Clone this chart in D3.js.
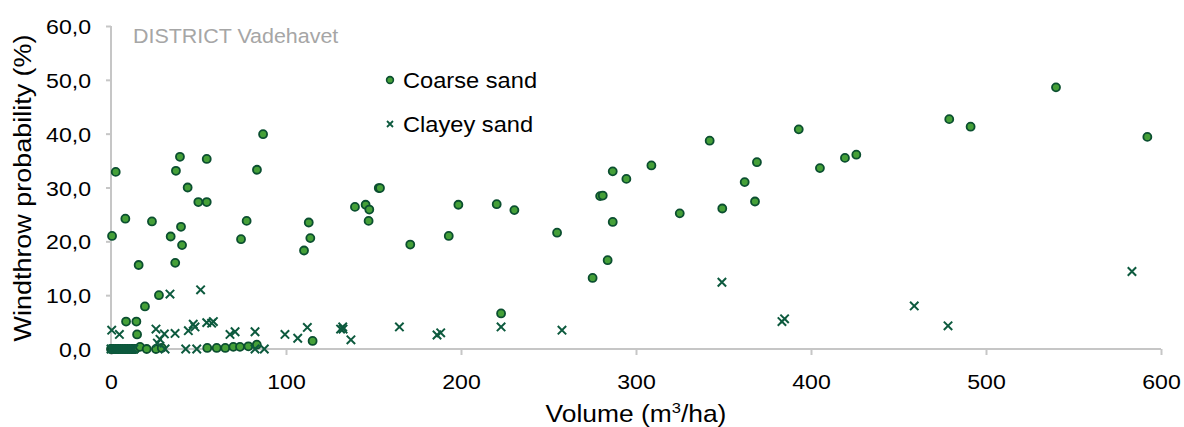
<!DOCTYPE html>
<html><head><meta charset="utf-8">
<script src="https://cdn.jsdelivr.net/npm/d3@7"></script>
<style>body{margin:0;background:#fff}svg{display:block}text{font-family:"Liberation Sans",Arial,sans-serif}</style>
</head><body><svg id="c" width="1184" height="427"></svg>
<script>
const title = "DISTRICT Vadehavet";
const xTicks = [0,100,200,300,400,500,600];
const yTicks = [0,10,20,30,40,50,60];
const seriesNames = ["Coarse sand","Clayey sand"];
const coarseX = [0,1,2,3,4,5,6,7,8,9,10,11,12,13,14,16.6,20.4,25.7,29,55,60.4,65.3,69.9,73.7,78.5,83.3,
 0.6,2.7,8.6,8.2,14.5,14.9,15.8,19.4,23.4,27.4,34.1,36.7,37.1,39.4,40,40.6,43.8,49.9,54.7,54.7,74.3,77.5,83.4,86.9,
 110.3,113,113.9,115.2,139.4,145.5,147.2,147.6,153,153.7,171,193,198.5,220.4,222.9,230.5,254.9,275.2,279.5,281,283.8,286.7,286.7,294.5,308.8,325,342.1,349.3,362.1,368,369.1,393,405.1,419.4,425.9,479,491.2,540,592.2];
const coarseY = [0,0,0,0,0,0,0,0,0,0,0,0,0,0,0,0.4,0,0,0.2,0.2,0.2,0.2,0.4,0.4,0.5,0.8,
 21.0,32.9,5.1,24.2,5.1,2.7,15.6,7.9,23.7,10.0,20.9,16.0,33.1,35.7,22.7,19.3,30.0,27.3,27.3,35.3,20.4,23.8,33.3,39.9,
 18.3,23.5,20.6,1.5,26.4,26.8,23.8,25.9,29.9,29.9,19.4,21.0,26.8,26.9,6.6,25.8,21.6,13.2,28.4,28.5,16.5,23.6,33.0,31.6,34.1,25.2,38.7,26.1,31.0,27.4,34.7,40.8,33.6,35.5,36.1,42.7,41.3,48.6,39.4];
const clayX = [0,1,2,3,4,5,6,7,8,9,10,11,12,13,30.9,42.7,49,82.3,87.6,
 0.4,4.8,25.7,26.5,28,30.5,33.7,36.6,44.2,47,48,51.2,54.7,57.5,58.5,68,70.9,82.3,99.4,106.7,112.2,131.2,132.4,132.6,137.1,164.8,186.3,188.4,222.9,257.7,349.1,383.4,384.9,459,478.3,583.4];
const clayY = [0,0,0,0,0,0,0,0,0,0,0,0,0,0,0,0,0,0,0,
 3.5,2.7,3.7,1.1,1.8,2.8,10.2,2.9,3.4,4.6,4.1,11.0,4.9,4.8,5.1,2.7,3.2,3.2,2.7,2.0,4.0,3.7,4.1,3.7,1.7,4.1,2.6,3.0,4.1,3.5,12.4,5.1,5.6,8.0,4.3,14.4];

const SX = 1.1;
const axisCol = "#c6c6c6", fillG = "#45a038", strokeG = "#0b4f30", crossC = "#0d5a3e";
const svg = d3.select("#c");
const x = d3.scaleLinear().domain([0,600]).range([111,1161]);
const y = d3.scaleLinear().domain([0,60]).range([349,26]);

// axes
const gx = svg.append("g").attr("transform","translate(0,349)")
  .call(d3.axisBottom(x).tickValues(xTicks).tickSize(6).tickPadding(0).tickFormat(d3.format("d")));
const gy = svg.append("g").attr("transform","translate(111,0)")
  .call(d3.axisLeft(y).tickValues(yTicks).tickSize(5).tickPadding(0).tickFormat(d=>d.toFixed(1).replace(".",",")));
[gx,gy].forEach(g=>{
  g.select(".domain").attr("stroke",axisCol).attr("stroke-width",2);
  g.selectAll(".tick line").attr("stroke",axisCol).attr("stroke-width",2);
  g.selectAll(".tick text").attr("font-size",21).attr("fill","#000").attr("font-family","Liberation Sans, Arial, sans-serif");
});
gy.select(".domain").attr("d","M0,26V349");
gx.select(".domain").attr("d","M0,0H1050").attr("transform","translate(111,0)");
gx.selectAll(".tick text").attr("y",0).attr("dy",0).attr("transform","translate(0,40) scale("+SX+",1)");
gy.selectAll(".tick text").attr("x",0).attr("dy",0).attr("transform","translate(-20,7.5) scale("+SX+",1)");

// points
svg.append("g").selectAll("circle").data(coarseX.map((v,i)=>[v,coarseY[i]])).join("circle")
  .attr("cx",d=>x(d[0])).attr("cy",d=>y(d[1])).attr("r",4)
  .attr("fill",fillG).attr("stroke",strokeG).attr("stroke-width",1.8);
const cs = 4.2;
svg.append("g").selectAll("path").data(clayX.map((v,i)=>[v,clayY[i]])).join("path")
  .attr("d",d=>{const px=x(d[0]),py=y(d[1]);return `M${px-cs},${py-cs}L${px+cs},${py+cs}M${px-cs},${py+cs}L${px+cs},${py-cs}`;})
  .attr("stroke",crossC).attr("stroke-width",2).attr("fill","none");

// title
svg.append("text").attr("transform","translate(133,43) scale("+SX+",1)").attr("font-size",19.5).attr("fill","#a6a6a6").text(title);

// legend
const lg = svg.append("g");
lg.append("circle").attr("cx",390).attr("cy",80).attr("r",3.4).attr("fill",fillG).attr("stroke",strokeG).attr("stroke-width",1.6);
lg.append("text").attr("transform","translate(403,88) scale("+SX+",1)").attr("font-size",21.5).attr("fill","#000").text(seriesNames[0]);
const lc=3;
lg.append("path").attr("d",`M${390-lc},${124-lc}L${390+lc},${124+lc}M${390-lc},${124+lc}L${390+lc},${124-lc}`).attr("stroke",crossC).attr("stroke-width",1.8);
lg.append("text").attr("transform","translate(403,132) scale("+SX+",1)").attr("font-size",21.5).attr("fill","#000").text(seriesNames[1]);

// axis titles
const xt = svg.append("text").attr("transform","translate(636,422) scale("+SX+",1)").attr("font-size",24).attr("text-anchor","middle").attr("fill","#000");
xt.append("tspan").text("Volume (m");
xt.append("tspan").attr("font-size",15).attr("dy",-9).text("3");
xt.append("tspan").attr("dy",9).text("/ha)");
svg.append("text").attr("transform","translate(31,188) rotate(-90) scale("+SX+",1)").attr("font-size",24.5).attr("text-anchor","middle").attr("fill","#000").text("Windthrow probability (%)");
</script></body></html>
